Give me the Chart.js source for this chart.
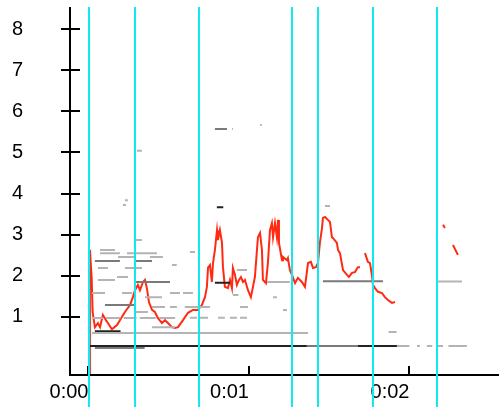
<!DOCTYPE html>
<html>
<head>
<meta charset="utf-8">
<script src="https://cdn.jsdelivr.net/npm/chart.js@4/dist/chart.umd.min.js"></script>
<style>
  html, body { margin: 0; padding: 0; background: #fff; }
  #wrap { width: 499px; height: 407px; position: relative; }
</style>
</head>
<body>
<div id="wrap"><canvas id="c"></canvas></div>
<script>
// ---- data (time in seconds, value) ----
const xTickValues = [0, 1, 2];
const xTickLabels = ['0:00', '0:01', '0:02'];
const yTickValues = [1, 2, 3, 4, 5, 6, 7, 8];
const yTickLabels = ['1', '2', '3', '4', '5', '6', '7', '8'];

// cyan marker times
const markerTimes = [0.003, 0.29, 0.69, 1.27, 1.43, 1.77, 2.17];

// red contour (null = gap)
const redT = [0.006, 0.009, 0.02, 0.026, 0.04, 0.059, 0.072, 0.09, 0.109, 0.121, 0.146, 0.178, 0.196, 0.227, 0.259, 0.277, 0.29, 0.308, 0.321, 0.34, 0.352, 0.364, 0.377, 0.396, 0.414, 0.433, 0.458, 0.477, 0.495, 0.52, 0.539, 0.558, 0.589, 0.62, 0.651, 0.682, 0.707, 0.726, 0.738, 0.745, 0.757, 0.769, 0.776, 0.788, 0.801, 0.807, 0.819, 0.832, 0.838, 0.85, 0.869, 0.882, 0.894, 0.9, 0.913, 0.925, 0.938, 0.95, 0.963, 0.975, 0.994, 1.012, 1.025, 1.037, 1.05, 1.056, 1.069, 1.081, 1.087, 1.106, 1.118, 1.131, 1.143, 1.15, 1.162, 1.174, 1.181, 1.187, 1.206, 1.212, 1.237, 1.243, 1.255, 1.268, 1.287, 1.305, 1.33, 1.349, 1.368, 1.386, 1.399, 1.417, 1.43, 1.442, 1.455, 1.461, 1.474, 1.492, 1.505, 1.517, 1.523, 1.548, 1.555, 1.567, 1.586, 1.611, 1.623, 1.642, 1.66, 1.679, 1.692, 1.70, 1.723, 1.741, 1.754, 1.766, 1.773, 1.785, 1.804, 1.829, 1.847, 1.866, 1.891, 1.91, 1.92, 2.209, 2.221, 2.23, 2.271, 2.302];
const redV = [-0.40, 2.63, 1.95, 1.12, 0.75, 0.85, 0.75, 1.05, 0.92, 0.85, 0.70, 0.80, 0.92, 1.12, 1.29, 1.48, 1.65, 1.78, 1.65, 1.85, 1.90, 1.70, 1.36, 1.17, 1.12, 0.97, 0.85, 0.92, 0.85, 0.75, 0.73, 0.75, 0.92, 1.10, 1.17, 1.17, 1.29, 1.48, 1.73, 2.20, 2.26, 1.85, 2.31, 2.63, 3.11, 2.87, 3.11, 2.80, 2.21, 1.73, 1.70, 1.90, 1.70, 2.19, 2.02, 1.78, 1.90, 1.97, 1.85, 1.90, 1.65, 1.48, 1.73, 1.97, 2.63, 2.94, 3.04, 2.63, 1.90, 1.82, 2.31, 3.11, 3.28, 2.94, 3.28, 2.94, 3.36, 2.80, 2.38, 2.46, 2.38, 2.43, 2.14, 2.02, 1.82, 1.95, 1.85, 1.73, 2.31, 2.34, 2.19, 2.21, 2.31, 2.80, 3.16, 3.41, 3.43, 3.36, 3.31, 2.94, 2.92, 2.80, 2.63, 2.55, 2.14, 2.02, 1.97, 2.07, 2.09, 2.21, 2.21, null, 2.55, 2.34, 2.31, 2.02, 1.78, 1.70, 1.61, 1.58, 1.48, 1.41, 1.34, 1.36, null, 3.24, 3.16, null, 2.75, 2.51];

// gray candidate dashes: [startTime, endTime, value]
const darkDashes = [
  [0.003, 1.361, 0.29], [1.679, 1.922, 0.29], [0.04, 0.20, 0.65],
  [0.788, 0.882, 1.83], [0.80, 0.84, 3.67]
];
const midDashes = [
  [1.361, 1.679, 0.29], [0.103, 0.29, 1.29], [0.04, 0.196, 2.36], [0.29, 0.396, 2.36],
  [0.29, 0.508, 1.85], [1.461, 1.835, 1.87], [0.788, 0.863, 5.57], [0.04, 0.35, 0.24]
];
const lightDashes = [
  [0.022, 1.368, 0.61],
  [0.022, 0.09, 0.97], [0.11, 0.20, 0.97], [0.22, 0.30, 0.97], [0.32, 0.42, 0.97], [0.44, 0.54, 0.97],
  [0.632, 0.676, 0.98], [0.695, 0.745, 0.98], [0.807, 0.85, 0.98], [0.882, 0.925, 0.98], [0.944, 0.988, 0.98],
  [0.072, 0.165, 2.63], [0.072, 0.196, 2.55], [0.24, 0.427, 2.55], [0.184, 0.29, 2.46], [0.383, 0.464, 2.46],
  [0.059, 0.121, 2.19], [0.227, 0.333, 2.19], [0.178, 0.246, 1.97], [0.059, 0.165, 1.90],
  [0.022, 0.103, 1.58], [0.209, 0.271, 1.58], [0.508, 0.57, 1.58], [0.589, 0.651, 1.58],
  [0.352, 0.458, 1.48], [0.396, 0.477, 1.24], [0.508, 0.551, 1.24], [0.60, 0.757, 1.24], [0.944, 0.994, 1.24],
  [0.29, 0.371, 1.12], [0.396, 0.539, 0.75], [0.29, 0.333, 2.87], [0.632, 0.664, 2.58], [0.52, 0.55, 2.26],
  [0.90, 0.935, 1.53], [1.15, 1.174, 1.48], [0.925, 0.988, 2.14], [1.212, 1.237, 1.17], [1.87, 1.92, 0.63],
  [1.922, 2.0, 0.29], [2.047, 2.065, 0.29], [2.109, 2.142, 0.29], [2.178, 2.209, 0.29], [2.243, 2.358, 0.29],
  [0.227, 0.246, 3.84], [0.215, 0.234, 3.72], [0.302, 0.333, 5.04], [1.069, 1.08, 5.67], [0.894, 0.90, 5.57],
  [1.474, 1.505, 3.70], [1.112, 1.255, 1.85], [2.178, 2.327, 1.86]
];

// ---- build datasets ----
function dashData(list) {
  const out = [];
  list.forEach(([a, b, v]) => {
    out.push({ x: a, y: v }, { x: b, y: v }, { x: b, y: null });
  });
  return out;
}
const redData = redT.map((t, i) => ({ x: t, y: redV[i] }));

const overlay = {
  id: 'overlay',
  afterDatasetsDraw(chart) {
    const ctx = chart.ctx;
    const xs = chart.scales.x, ys = chart.scales.y;
    const area = chart.chartArea;
    ctx.save();
    ctx.strokeStyle = '#000';
    ctx.lineWidth = 2;
    ctx.beginPath();
    ctx.moveTo(area.left, area.top);
    ctx.lineTo(area.left, area.bottom);
    ctx.moveTo(area.left - 1, area.bottom);
    ctx.lineTo(chart.width, area.bottom);
    ctx.stroke();
    ctx.beginPath();
    yTickValues.forEach(v => {
      const y = Math.round(ys.getPixelForValue(v));
      ctx.moveTo(area.left - 9, y);
      ctx.lineTo(area.left + 10, y);
    });
    xTickValues.forEach(v => {
      const x = Math.round(xs.getPixelForValue(v));
      ctx.moveTo(x, area.bottom);
      ctx.lineTo(x, area.bottom - 9);
    });
    ctx.stroke();
    ctx.strokeStyle = '#10e8f2';
    ctx.lineWidth = 2;
    ctx.beginPath();
    markerTimes.forEach(t => {
      const x = Math.round(xs.getPixelForValue(t));
      ctx.moveTo(x, area.top);
      ctx.lineTo(x, chart.height);
    });
    ctx.stroke();
    ctx.restore();
  }
};

new Chart(document.getElementById('c'), {
  type: 'line',
  data: {
    datasets: [
      { data: dashData(lightDashes), borderColor: '#b4b4b4', borderWidth: 2, pointRadius: 0, spanGaps: false, borderCapStyle: 'butt' },
      { data: dashData(midDashes), borderColor: '#7a7a7a', borderWidth: 2, pointRadius: 0, spanGaps: false, borderCapStyle: 'butt' },
      { data: dashData(darkDashes), borderColor: '#222', borderWidth: 2, pointRadius: 0, spanGaps: false, borderCapStyle: 'butt' },
      { data: redData, borderColor: '#ff2a12', borderWidth: 2, pointRadius: 0, spanGaps: false, tension: 0 }
    ]
  },
  options: {
    responsive: true,
    maintainAspectRatio: false,
    animation: false,
    events: [],
    layout: { padding: { top: 7, left: 12, right: 0, bottom: 0 } },
    plugins: { legend: { display: false }, tooltip: { enabled: false } },
    scales: {
      x: {
        type: 'linear',
        min: -0.115,
        max: 2.558,
        grid: { display: false, drawTicks: false },
        border: { display: false },
        afterFit(s) { s.height = 32; s.paddingLeft = 0; s.paddingRight = 0; },
        afterBuildTicks(s) { s.ticks = xTickValues.map(v => ({ value: v })); },
        ticks: {
          align: 'end',
          padding: 5,
          maxRotation: 0,
          autoSkip: false,
          color: '#000',
          font: { family: 'Liberation Sans', size: 20 },
          callback(v) { const i = xTickValues.indexOf(v); return i >= 0 ? xTickLabels[i] : ''; }
        }
      },
      y: {
        type: 'linear',
        min: -0.414,
        max: 8.54,
        grid: { display: false, drawTicks: false },
        border: { display: false },
        afterFit(s) { s.width = 58; s.paddingTop = 0; s.paddingBottom = 0; },
        afterBuildTicks(s) { s.ticks = yTickValues.map(v => ({ value: v })); },
        ticks: {
          padding: 0,
          crossAlign: 'far',
          autoSkip: false,
          color: '#000',
          font: { family: 'Liberation Sans', size: 20 },
          callback(v) { const i = yTickValues.indexOf(v); return i >= 0 ? yTickLabels[i] : ''; }
        }
      }
    }
  },
  plugins: [overlay]
});
</script>
</body>
</html>
